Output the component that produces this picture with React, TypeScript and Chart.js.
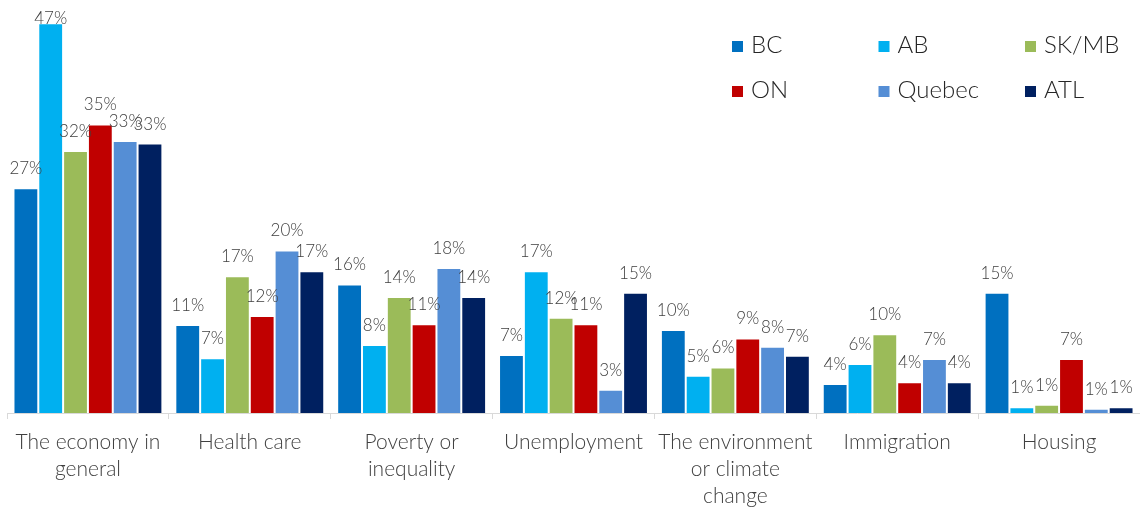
import React, { useEffect, useRef } from "react";
import { Chart, registerables } from "chart.js";

Chart.register(...registerables);

const categories: string[][] = [
  ["The economy in", "general"],
  ["Health care"],
  ["Poverty or", "inequality"],
  ["Unemployment"],
  ["The environment", "or climate", "change"],
  ["Immigration"],
  ["Housing"],
];

const seriesNames = ["BC", "AB", "SK/MB", "ON", "Quebec", "ATL"];
const seriesColors = ["#0070C0", "#00B0F0", "#9BBB59", "#C00000", "#558ED5", "#002060"];

const bcValues = [27.1, 10.6, 15.5, 7.0, 10.0, 3.5, 14.5];
const abValues = [47.0, 6.6, 8.2, 17.1, 4.5, 5.9, 0.7];
const skmbValues = [31.6, 16.5, 14.0, 11.5, 5.5, 9.5, 1.0];
const onValues = [34.8, 11.7, 10.7, 10.7, 9.0, 3.7, 6.5];
const quebecValues = [32.8, 19.6, 17.5, 2.8, 8.0, 6.5, 0.5];
const atlValues = [32.5, 17.1, 14.0, 14.5, 6.9, 3.7, 0.7];

const seriesValues = [bcValues, abValues, skmbValues, onValues, quebecValues, atlValues];

const FONT = "Lato, 'Open Sans', sans-serif";

const dataLabelPlugin = {
  id: "dataLabels",
  afterDatasetsDraw(chart: any) {
    const ctx = chart.ctx;
    ctx.save();
    ctx.font = `300 17px ${FONT}`;
    ctx.fillStyle = "#404040";
    ctx.textAlign = "center";
    ctx.textBaseline = "alphabetic";
    chart.data.datasets.forEach((ds: any, di: number) => {
      const meta = chart.getDatasetMeta(di);
      meta.data.forEach((bar: any, i: number) => {
        const v = ds.data[i];
        const y = Math.max(bar.y - 14, 24);
        ctx.fillText(`${Math.round(v)}%`, bar.x, y);
      });
    });
    ctx.restore();
  },
};

const legendPlugin = {
  id: "customLegend",
  afterDraw(chart: any) {
    const ctx = chart.ctx;
    ctx.save();
    ctx.font = `300 24px ${FONT}`;
    ctx.textBaseline = "alphabetic";
    ctx.textAlign = "left";
    const x0 = 732;
    const baseline0 = 53;
    const colStep = 146.5;
    const rowStep = 45;
    seriesNames.forEach((name, i) => {
      const col = i % 3;
      const row = Math.floor(i / 3);
      const x = x0 + col * colStep;
      const yb = baseline0 + row * rowStep;
      ctx.fillStyle = seriesColors[i];
      ctx.fillRect(x, yb - 12, 11, 11);
      ctx.fillStyle = "#262626";
      ctx.fillText(name, x + 19, yb);
    });
    ctx.restore();
  },
};

export default function App() {
  const canvasRef = useRef<HTMLCanvasElement | null>(null);

  useEffect(() => {
    if (!canvasRef.current) return;
    const chart = new Chart(canvasRef.current, {
      type: "bar",
      data: {
        labels: categories,
        datasets: seriesNames.map((name, i) => ({
          label: name,
          data: seriesValues[i],
          backgroundColor: seriesColors[i],
          borderColor: "#ffffff",
          borderWidth: 1,
          categoryPercentage: 0.92,
          barPercentage: 1.0,
        })),
      },
      options: {
        animation: false,
        responsive: false,
        maintainAspectRatio: false,
        layout: { padding: { left: 7, right: 0, top: 15, bottom: 0 } },
        plugins: {
          legend: { display: false },
          tooltip: { enabled: false },
        },
        scales: {
          x: {
            grid: {
              display: true,
              drawOnChartArea: false,
              drawTicks: true,
              tickLength: 6,
              color: "#d9d9d9",
              offset: true,
            },
            border: { display: true, color: "#d9d9d9" },
            ticks: {
              autoSkip: false,
              maxRotation: 0,
              minRotation: 0,
              padding: 10,
              color: "#404040",
              font: { family: FONT, size: 21, weight: "300", lineHeight: 27 / 21 },
            },
            afterFit: (scale: any) => {
              scale.height = 97;
            },
          },
          y: {
            display: false,
            min: 0,
            max: 48,
          },
        },
      },
      plugins: [dataLabelPlugin, legendPlugin],
    });
    return () => chart.destroy();
  }, []);

  return (
    <div style={{ position: "fixed", left: 0, top: 0, width: 1140, height: 510, background: "#fff" }}>
      <canvas ref={canvasRef} width={1140} height={510} style={{ width: 1140, height: 510 }} />
    </div>
  );
}
